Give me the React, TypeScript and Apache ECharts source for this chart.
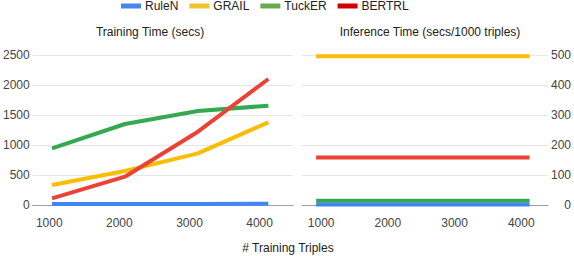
import React, { useEffect, useRef } from "react";
import * as echarts from "echarts";

const seriesNames = ["RuleN", "GRAIL", "TuckER", "BERTRL"];
const lineColors = ["#4285f4", "#fbbc04", "#34a853", "#ea4335"];
const legendColors = ["#4a86e8", "#f1c232", "#6aa84f", "#cc0000"];

// Training time (secs) vs # training triples
const trainX = [1040, 2080, 3120, 4125];
const trainRuleN = [15, 16, 18, 20];
const trainGRAIL = [333, 567, 861, 1378];
const trainTuckER = [945, 1350, 1567, 1655];
const trainBERTRL = [111, 472, 1222, 2100];

// Inference time (secs/1000 triples)
const inferX = [925, 2000, 3000, 4125];
const inferRuleN = [2, 2, 2, 2];
const inferGRAIL = [496, 496, 496, 496];
const inferTuckER = [14, 14, 14, 14];
const inferBERTRL = [158, 158, 158, 158];

const xTicks = [1000, 2000, 3000, 4000];

const FONT = "Liberation Sans";
const plain = (v: number) => String(v);

export default function App() {
  const ref = useRef<HTMLDivElement>(null);
  useEffect(() => {
    if (!ref.current) return;
    const chart = echarts.init(ref.current, undefined, { renderer: "svg" });
    const trainData = [trainRuleN, trainGRAIL, trainTuckER, trainBERTRL];
    const inferData = [inferRuleN, inferGRAIL, inferTuckER, inferBERTRL];
    const series: any[] = [];
    seriesNames.forEach((name, i) => {
      series.push({
        name,
        type: "line",
        xAxisIndex: 0,
        yAxisIndex: 0,
        data: trainX.map((x, j) => [x, trainData[i][j]]),
        showSymbol: false,
        symbol: "none",
        lineStyle: { width: 4, color: lineColors[i] },
        itemStyle: { color: lineColors[i] },
      });
    });
    seriesNames.forEach((name, i) => {
      series.push({
        name,
        type: "line",
        xAxisIndex: 1,
        yAxisIndex: 1,
        data: inferX.map((x, j) => [x, inferData[i][j]]),
        showSymbol: false,
        symbol: "none",
        lineStyle: { width: 4, color: lineColors[i] },
        itemStyle: { color: lineColors[i] },
      });
    });
    const xAxisBase = (gridIndex: number, min: number, max: number) => ({
      type: "value",
      gridIndex,
      min,
      max,
      splitLine: { show: false },
      axisTick: { show: false },
      axisLine: { show: true, lineStyle: { color: "#9e9e9e", width: 1 } },
      axisLabel: {
        customValues: xTicks,
        formatter: plain,
        color: "#444",
        fontSize: 12,
        fontFamily: FONT,
        margin: 12,
      },
    });
    chart.setOption({
      animation: false,
      textStyle: { fontFamily: FONT },
      legend: {
        left: 121,
        top: 0,
        padding: 0,
        itemWidth: 20,
        itemHeight: 5,
        itemGap: 11,
        icon: "rect",
        textStyle: { fontSize: 12, color: "#222", fontFamily: FONT, padding: [0, 0, 0, -1] },
        data: seriesNames.map((n, i) => ({ name: n, itemStyle: { color: legendColors[i] } })),
      },
      grid: [
        { left: 30, right: 574 - 293, top: 55, height: 150 },
        { left: 302, right: 574 - 550, top: 55, height: 150 },
      ],
      xAxis: [xAxisBase(0, 764, 4476), xAxisBase(1, 713, 4401)],
      yAxis: [
        {
          type: "value",
          gridIndex: 0,
          min: 0,
          max: 2500,
          interval: 500,
          axisLine: { show: false },
          axisTick: { show: false },
          splitLine: { lineStyle: { color: "#e6e6e6", width: 1 } },
          axisLabel: { formatter: plain, color: "#444", fontSize: 12, fontFamily: FONT, margin: 3 },
        },
        {
          type: "value",
          gridIndex: 1,
          position: "right",
          min: 0,
          max: 500,
          interval: 100,
          axisLine: { show: false },
          axisTick: { show: false },
          splitLine: { lineStyle: { color: "#e6e6e6", width: 1 } },
          axisLabel: {
            formatter: plain,
            color: "#444",
            fontSize: 12,
            fontFamily: FONT,
            margin: 23,
            align: "right",
          },
        },
      ],
      graphic: [
        {
          type: "text",
          x: 150,
          y: 32,
          style: {
            text: "Training Time (secs)",
            fill: "#222",
            font: `12px ${FONT}`,
            textAlign: "center",
            textVerticalAlign: "middle",
          },
        },
        {
          type: "text",
          x: 430,
          y: 32,
          style: {
            text: "Inference Time (secs/1000 triples)",
            fill: "#222",
            font: `12px ${FONT}`,
            textAlign: "center",
            textVerticalAlign: "middle",
          },
        },
        {
          type: "text",
          x: 288,
          y: 248,
          style: {
            text: "# Training Triples",
            fill: "#222",
            font: `12px ${FONT}`,
            textAlign: "center",
            textVerticalAlign: "middle",
          },
        },
      ],
      series,
    });
    return () => chart.dispose();
  }, []);
  return (
    <div
      ref={ref}
      style={{ position: "fixed", left: 0, top: 0, width: 574, height: 256, background: "#fff" }}
    />
  );
}
